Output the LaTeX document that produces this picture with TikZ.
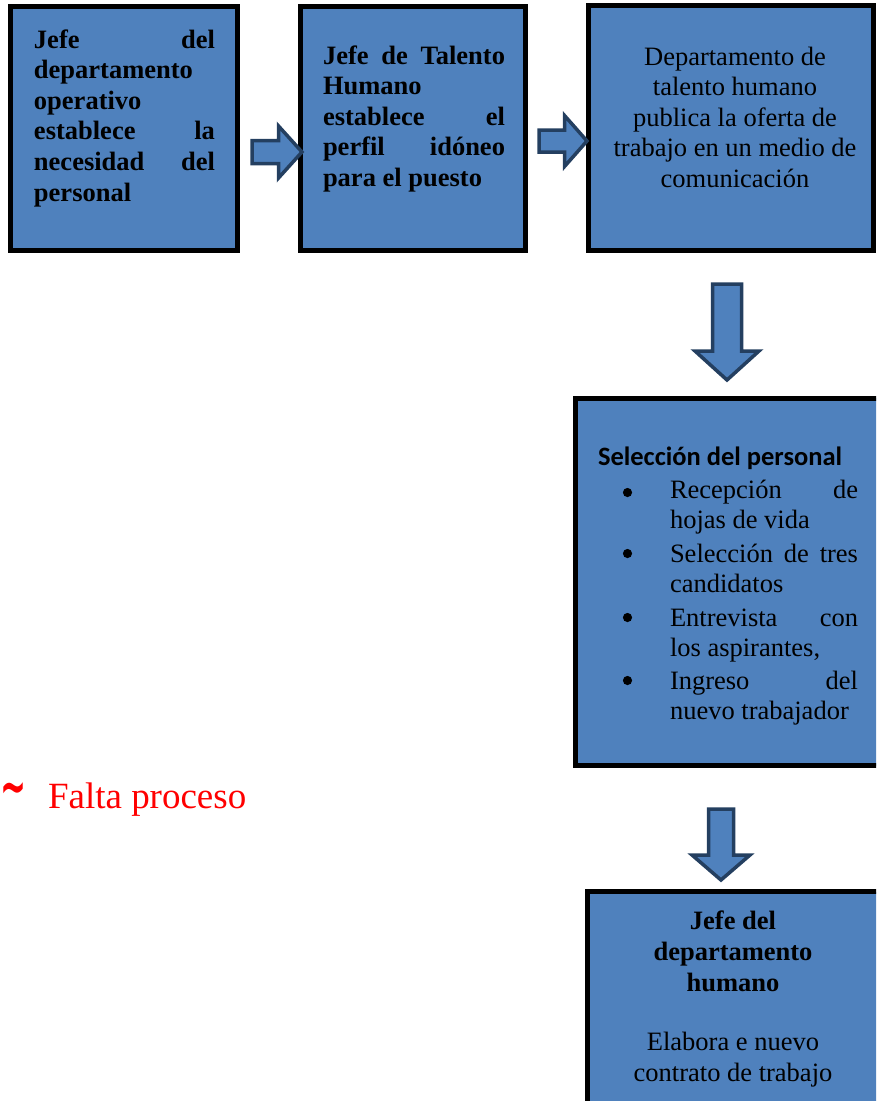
\documentclass[tikz,border=0pt]{standalone}
\usepackage{fontspec}
\usepackage{graphicx}
\setmainfont{Liberation Serif}
\setsansfont{Carlito}
\newfontfamily\marksfont{DejaVu Sans}
\definecolor{boxblue}{HTML}{4F81BD}
\definecolor{arrowedge}{HTML}{243F60}
\definecolor{notered}{HTML}{FF0000}
% invisible strut that fixes the top of each text block
\newcommand{\topstrut}{\rule{0pt}{20pt}}

\begin{document}
\begin{tikzpicture}[x=1pt,y=-1pt,
  stepbox/.style={draw=black, line width=5pt, fill=boxblue},
  blockarrow/.style={draw=arrowedge, line width=3.5pt, fill=boxblue, line join=miter},
  boxtext/.style={inner sep=0pt, outer sep=0pt, font=\fontsize{26.5}{30.5}\selectfont},
  notetext/.style={inner sep=0pt, outer sep=0pt, text=notered, font=\fontsize{37}{44}\selectfont},
  listdot/.style={fill=black},
]
\path[use as bounding box] (0,0) rectangle (876,1101);
\clip (0,0) rectangle (876,1101);

% process boxes
\draw[stepbox] (10.5,6) rectangle (237,250.5);
\draw[stepbox] (300.5,6) rectangle (525.5,250.5);
\draw[stepbox] (588,5.5) rectangle (873.5,250.5);
\draw[stepbox] (575,398) rectangle (900,765.5);
\draw[stepbox] (587.5,891.5) rectangle (900,1130);

% block arrows between the steps
\draw[blockarrow] (252,140.5) -- (278.5,140.5) -- (278.5,126) -- (302,152)
  -- (278.5,178) -- (278.5,163.5) -- (252,163.5) -- cycle;
\draw[blockarrow] (539,130) -- (564.5,130) -- (564.5,115.5) -- (587,141)
  -- (564.5,166.5) -- (564.5,152) -- (539,152) -- cycle;
\draw[blockarrow] (712.5,284) -- (741.5,284) -- (741.5,351) -- (759,351)
  -- (727,380) -- (695,351) -- (712.5,351) -- cycle;
\draw[blockarrow] (708.5,809) -- (733.5,809) -- (733.5,855) -- (750,855)
  -- (721,880) -- (692,855) -- (708.5,855) -- cycle;

% texts of the steps
\node[boxtext, anchor=north west, align=left, font=\fontsize{26.5}{30.6}\selectfont\bfseries] (t1) at (34,28)
  {\topstrut\makebox[181pt]{Jefe\hfill del}\\
   departamento\\
   operativo\\
   \makebox[181pt]{establece\hfill la}\\
   \makebox[181pt]{necesidad\hfill del}\\
   personal};

\node[boxtext, anchor=north west, align=left, font=\fontsize{26.5}{30.5}\selectfont\bfseries] (t2) at (323,44)
  {\topstrut\makebox[182pt]{Jefe\hfill de\hfill Talento}\\
   Humano\\
   \makebox[182pt]{establece\hfill el}\\
   \makebox[182pt]{perfil\hfill idóneo}\\
   para el puesto};

\node[boxtext, anchor=north, align=center] (t3) at (735,45)
  {\topstrut Departamento de\\
   talento humano\\
   publica la oferta de\\
   trabajo en un medio de\\
   comunicación};

\node[boxtext, anchor=base west, font=\fontsize{26.5}{30.5}\selectfont\sffamily\bfseries] (t4) at (598,465)
  {Selección del personal};

\node[boxtext, anchor=north west, align=left, font=\fontsize{26.5}{30}\selectfont] (t4list) at (670,478)
  {\topstrut\makebox[188pt]{Recepción\hfill de}\\
   hojas de vida\\[4pt]
   \makebox[188pt]{Selección\hfill de\hfill tres}\\
   candidatos\\[4pt]
   \makebox[188pt]{Entrevista\hfill con}\\
   los aspirantes,\\[3pt]
   \makebox[188pt]{Ingreso\hfill del}\\
   nuevo trabajador};

% list bullets
\foreach \by in {492.5,553.5,617.5,680.5}
  \fill[listdot] (627.5,\by) circle (4.6);

\node[boxtext, anchor=north, align=center, font=\fontsize{26.5}{31.2}\selectfont] (t5) at (733,909.5)
  {\topstrut\textbf{Jefe del}\\
   \textbf{departamento}\\
   \textbf{humano}\\[27pt]
   Elabora e nuevo\\
   contrato de trabajo};

% reviewer note
\node[notetext, anchor=base west, font=\fontsize{23}{28}\selectfont\marksfont\bfseries] (tilde) at (0,805)
  {\scalebox{1.35}[2.4]{\textasciitilde}};
\node[notetext, anchor=base west] (note) at (48,808) {Falta proceso};
\end{tikzpicture}
\end{document}
